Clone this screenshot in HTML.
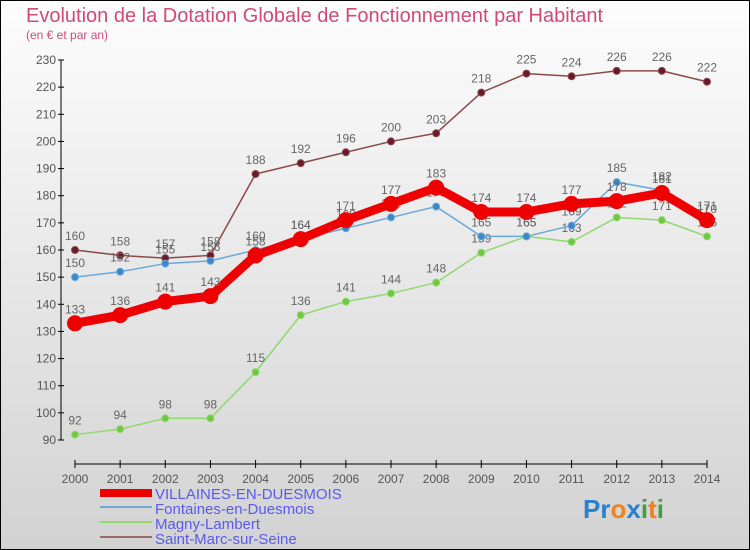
<!DOCTYPE html>
<html><head><meta charset="utf-8"><style>
body{margin:0}
svg{display:block;font-family:"Liberation Sans",sans-serif}
</style></head><body>
<svg width="750" height="550" viewBox="0 0 750 550">
<defs><linearGradient id="bg" x1="0" y1="0" x2="0" y2="1"><stop offset="0" stop-color="#fdfdfd"/><stop offset="1" stop-color="#d2d2d2"/></linearGradient></defs>
<rect x="0.5" y="0.5" width="749" height="549" fill="url(#bg)" stroke="#000"/>
<text x="26" y="22" font-size="20" fill="#d04a78">Evolution de la Dotation Globale de Fonctionnement par Habitant</text>
<text x="26" y="39" font-size="12" fill="#d04a78">(en € et par an)</text>
<g id="axes"></g>
<g id="series"></g>
<g id="legend">
<rect x="100" y="489" width="52" height="8" fill="#ee0000"/>
<text x="155" y="499" font-size="15" fill="#5a5af0">VILLAINES-EN-DUESMOIS</text>
<rect x="100" y="506" width="52" height="2" fill="#6fa8d8"/>
<text x="155" y="514" font-size="15" fill="#5a5af0">Fontaines-en-Duesmois</text>
<rect x="100" y="521" width="52" height="2" fill="#8fdc6a"/>
<text x="155" y="529" font-size="15" fill="#5a5af0">Magny-Lambert</text>
<rect x="100" y="536" width="52" height="2" fill="#9a6a6a"/>
<text x="155" y="544" font-size="15" fill="#5a5af0">Saint-Marc-sur-Seine</text>
</g>
<text x="583" y="518" font-size="26" font-weight="bold"><tspan fill="#2a7fd0">Pr</tspan><tspan fill="#f08020">o</tspan><tspan fill="#2a7fd0">x</tspan><tspan fill="#40a040">i</tspan><tspan fill="#f08020">t</tspan><tspan fill="#40a040">i</tspan></text>
</svg>
<script>
const years=[2000,2001,2002,2003,2004,2005,2006,2007,2008,2009,2010,2011,2012,2013,2014];
const yTicks=[90,100,110,120,130,140,150,160,170,180,190,200,210,220,230];
const villaines=[133,136,141,143,158,164,171,177,183,174,174,177,178,181,171];
const fontaines=[150,152,155,156,160,164,168,172,176,165,165,169,185,182,170];
const magny=[92,94,98,98,115,136,141,144,148,159,165,163,172,171,165];
const saintMarc=[160,158,157,158,188,192,196,200,203,218,225,224,226,226,222];
const NS="http://www.w3.org/2000/svg";
const X=i=>75+i*(707-75)/(years.length-1);
const Y=v=>440-(v-90)*(380/140);
function mk(tag,attrs,parent){const e=document.createElementNS(NS,tag);for(const k in attrs)e.setAttribute(k,attrs[k]);parent.appendChild(e);return e;}
const ax=document.getElementById('axes');
let yl=mk('line',{x1:61,y1:Y(230),x2:61,y2:Y(90),stroke:'#000'},ax);


let xl=mk('line',{x1:75,y1:464,x2:707,y2:464,stroke:'#000'},ax);


yTicks.forEach(v=>{
  mk('line',{x1:58,y1:Y(v),x2:64,y2:Y(v),stroke:'#000'},ax);
  const t=mk('text',{x:56,y:Y(v)+4,'font-size':12,'text-anchor':'end',fill:'#555'},ax);
  t.textContent=v;
  
  
});
years.forEach((y,i)=>{
  mk('line',{x1:X(i),y1:460,x2:X(i),y2:468,stroke:'#000'},ax);
  const t=mk('text',{x:X(i),y:483,'font-size':12,'text-anchor':'middle',fill:'#555'},ax);
  t.textContent=y;
  
  
});
const sg=document.getElementById('series');
function draw(data,color,w,r,name,dotColor){
  const g=mk('g',{},sg);
  
  
  const p=mk('polyline',{points:data.map((v,i)=>X(i)+','+Y(v)).join(' '),fill:'none',stroke:color,'stroke-width':w,'stroke-linejoin':'round'},g);
  
  
  data.forEach((v,i)=>{
    const c=mk('circle',{cx:X(i),cy:Y(v),r:r,fill:dotColor,stroke:color,'stroke-width':1},g);
    
    
    const t=mk('text',{x:X(i),y:Y(v)-10,'font-size':12,'text-anchor':'middle',fill:'#666'},g);
    t.textContent=v;
    
    
  });
}
draw(saintMarc,'#8a4a4a',1.5,3.5,'saint-marc','#6a1a2a');
draw(magny,'#90d870',1.5,3.5,'magny','#70c840');
draw(fontaines,'#6aa8d8',1.5,3.5,'fontaines','#3a88c8');
draw(villaines,'#ee0000',9,7.5,'villaines','#ee0000');
</script>
</body></html>
